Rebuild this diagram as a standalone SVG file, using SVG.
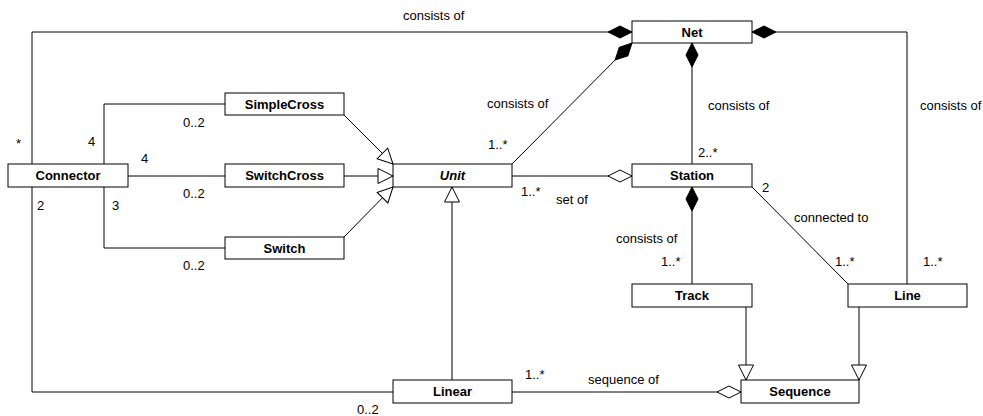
<svg xmlns="http://www.w3.org/2000/svg" width="983" height="416" viewBox="0 0 983 416">
<style>
.box{fill:#fff;stroke:#000;stroke-width:1}
.nt{font-family:"Liberation Sans",Arial,sans-serif;font-size:13px;font-weight:bold;text-anchor:middle;fill:#000}
.lb{font-family:"Liberation Sans",Arial,sans-serif;font-size:13px;fill:#000}
.ln{fill:none;stroke:#000;stroke-width:1}
</style>
<defs>
<marker id="dF" viewBox="0 0 24 12" refX="24" refY="6" markerWidth="24" markerHeight="12" markerUnits="userSpaceOnUse" orient="auto" overflow="visible"><path d="M0,6 L12,0 L24,6 L12,12 Z" fill="#000" stroke="#000" stroke-width="1"/></marker>
<marker id="dH" viewBox="0 0 24 12" refX="24" refY="6" markerWidth="24" markerHeight="12" markerUnits="userSpaceOnUse" orient="auto" overflow="visible"><path d="M0,6 L12,0 L24,6 L12,12 Z" fill="#fff" stroke="#000" stroke-width="1"/></marker>
<marker id="tr" viewBox="0 0 15 15" refX="15" refY="7.5" markerWidth="15" markerHeight="15" markerUnits="userSpaceOnUse" orient="auto" overflow="visible"><path d="M0,0 L15,7.5 L0,15 Z" fill="#fff" stroke="#000" stroke-width="1"/></marker>
</defs>
<g id="connectors">
<path class="ln" d="M32,164 V32 H632" marker-end="url(#dF)"/>
<path class="ln" d="M907,284 V32 H752" marker-end="url(#dF)"/>
<path class="ln" d="M692,164 V43" marker-end="url(#dF)"/>
<path class="ln" d="M512,164 L632,43" marker-end="url(#dF)"/>
<path class="ln" d="M512,176 H632" marker-end="url(#dH)"/>
<path class="ln" d="M692,284 V187" marker-end="url(#dF)"/>
<path class="ln" d="M752,187 L848,284"/>
<path class="ln" d="M104,164 V104 H225"/>
<path class="ln" d="M128,176 H225"/>
<path class="ln" d="M104,187 V248 H225"/>
<path class="ln" d="M344,115 L393,164" marker-end="url(#tr)"/>
<path class="ln" d="M344,176 H393" marker-end="url(#tr)"/>
<path class="ln" d="M344,237 L393,187" marker-end="url(#tr)"/>
<path class="ln" d="M452,380 V187" marker-end="url(#tr)"/>
<path class="ln" d="M32,187 V392 H393"/>
<path class="ln" d="M512,392 H741" marker-end="url(#dH)"/>
<path class="ln" d="M746,307 V380" marker-end="url(#tr)"/>
<path class="ln" d="M859,307 V380" marker-end="url(#tr)"/>
</g>
<g id="labels">
<text class="lb" x="403" y="20">consists of</text>
<text class="lb" x="16" y="148">*</text>
<text class="lb" x="88" y="146">4</text>
<text class="lb" x="141" y="163">4</text>
<text class="lb" x="183" y="127">0..2</text>
<text class="lb" x="183" y="198">0..2</text>
<text class="lb" x="183" y="270">0..2</text>
<text class="lb" x="37" y="210">2</text>
<text class="lb" x="112" y="210">3</text>
<text class="lb" x="357" y="414">0..2</text>
<text class="lb" x="488" y="149">1..*</text>
<text class="lb" x="521" y="196">1..*</text>
<text class="lb" x="556" y="204">set of</text>
<text class="lb" x="487" y="108">consists of</text>
<text class="lb" x="708" y="110">consists of</text>
<text class="lb" x="920" y="110">consists of</text>
<text class="lb" x="698" y="157">2..*</text>
<text class="lb" x="762" y="192">2</text>
<text class="lb" x="794" y="222">connected to</text>
<text class="lb" x="616" y="243">consists of</text>
<text class="lb" x="661" y="266">1..*</text>
<text class="lb" x="835" y="266">1..*</text>
<text class="lb" x="923" y="266">1..*</text>
<text class="lb" x="525" y="379">1..*</text>
<text class="lb" x="588" y="384">sequence of</text>
</g>
<g id="Net"><rect class="box" x="632" y="21" width="120" height="22"/><text class="nt" x="692" y="36.5">Net</text></g>
<g id="SimpleCross"><rect class="box" x="225" y="93" width="119" height="22"/><text class="nt" x="284.5" y="108.5">SimpleCross</text></g>
<g id="Connector"><rect class="box" x="8" y="164" width="120" height="23"/><text class="nt" x="68" y="180">Connector</text></g>
<g id="SwitchCross"><rect class="box" x="225" y="164" width="119" height="23"/><text class="nt" x="284.5" y="180">SwitchCross</text></g>
<g id="Unit"><rect class="box" x="393" y="164" width="119" height="23"/><text class="nt" x="452.5" y="180" font-style="italic">Unit</text></g>
<g id="Station"><rect class="box" x="632" y="164" width="120" height="23"/><text class="nt" x="692" y="180">Station</text></g>
<g id="Switch"><rect class="box" x="225" y="237" width="119" height="22"/><text class="nt" x="284.5" y="252.5">Switch</text></g>
<g id="Track"><rect class="box" x="632" y="284" width="120" height="23"/><text class="nt" x="692" y="300">Track</text></g>
<g id="Line"><rect class="box" x="848" y="284" width="119" height="23"/><text class="nt" x="907.5" y="300">Line</text></g>
<g id="Linear"><rect class="box" x="393" y="380" width="119" height="23"/><text class="nt" x="452.5" y="396">Linear</text></g>
<g id="Sequence"><rect class="box" x="741" y="380" width="118" height="23"/><text class="nt" x="800" y="396">Sequence</text></g>
</svg>
